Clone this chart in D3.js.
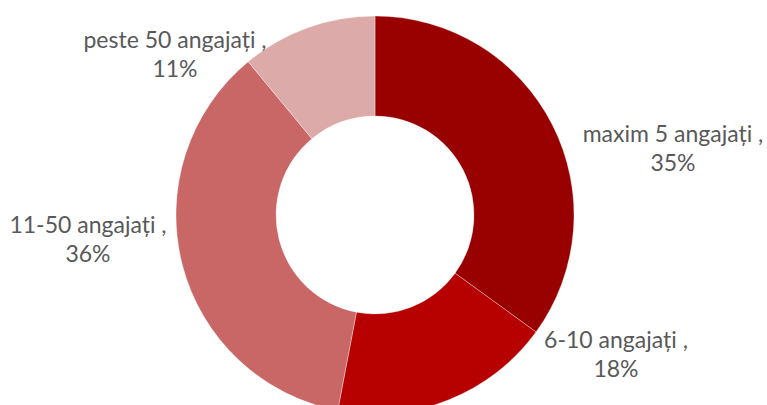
<!DOCTYPE html>
<html>
<head>
<meta charset="utf-8">
<script src="https://cdn.jsdelivr.net/npm/d3@7"></script>
<style>
  body { margin: 0; background: #fff; }
  svg text { font-family: "Lato", "Liberation Sans", sans-serif; fill: #595959; }
</style>
</head>
<body>
<div id="chart"></div>
<script>
// data
var categories = ["maxim 5 angajați", "6-10 angajați", "11-50 angajați", "peste 50 angajați"];
var values = [35, 18, 36, 11];
var colors = ["#990000", "#B70000", "#C96666", "#DDAAAA"];

var width = 767, height = 405;
var cx = 375, cy = 215,
    outerR = 199, innerR = 99;

// label anchors (centre of text block, first baseline) - placed by hand like excel
var labelPos = [[673, 142], [616, 348], [88, 233], [175, 48]];
var lineGap = 29;

var svg = d3.select("#chart").append("svg")
    .attr("width", width)
    .attr("height", height);

var pie = d3.pie().sort(null).value(function(d) { return d; });
var arc = d3.arc().innerRadius(innerR).outerRadius(outerR);

var g = svg.append("g")
    .attr("transform", "translate(" + cx + "," + cy + ")");

g.selectAll("path")
    .data(pie(values))
    .enter()
    .append("path")
    .attr("d", arc)
    .attr("fill", function(d, i) { return colors[i]; })
    .attr("stroke", "rgba(255,255,255,0.45)")
    .attr("stroke-width", 0.75);

var pct = d3.format(".0f");

var labels = svg.append("g").selectAll("text")
    .data(categories)
    .enter()
    .append("text")
    .attr("text-anchor", "middle")
    .style("font-size", "23px");

labels.each(function(d, i) {
  var t = d3.select(this);
  t.append("tspan")
    .attr("x", labelPos[i][0])
    .attr("y", labelPos[i][1])
    .text(d + " ,");
  t.append("tspan")
    .attr("x", labelPos[i][0])
    .attr("y", labelPos[i][1] + lineGap)
    .text(pct(values[i]) + "%");
});
</script>
</body>
</html>
